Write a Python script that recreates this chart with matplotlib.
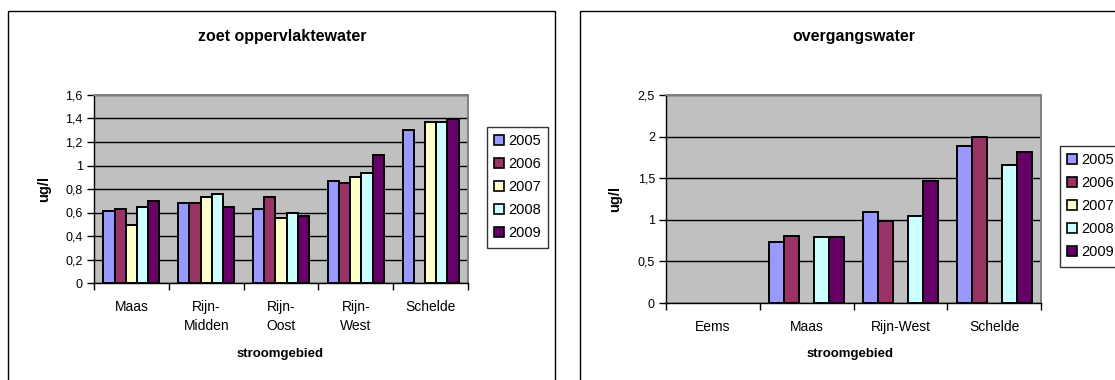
import numpy as np
import matplotlib.pyplot as plt
from matplotlib.patches import Rectangle
from matplotlib.ticker import FuncFormatter, FixedLocator

plt.rcParams["font.family"] = ["Liberation Sans", "DejaVu Sans"]

years = ["2005", "2006", "2007", "2008", "2009"]
colors = ["#9999FF", "#993366", "#FFFFCC", "#CCFFFF", "#660066"]

# zoet oppervlaktewater
zoet_gebieden = ["Maas", "Rijn-\nMidden", "Rijn-\nOost", "Rijn-\nWest", "Schelde"]
zoet_2005 = [0.61, 0.68, 0.63, 0.87, 1.30]
zoet_2006 = [0.63, 0.68, 0.73, 0.85, np.nan]
zoet_2007 = [0.49, 0.73, 0.55, 0.90, 1.37]
zoet_2008 = [0.65, 0.76, 0.60, 0.94, 1.37]
zoet_2009 = [0.70, 0.65, 0.57, 1.09, 1.40]

# overgangswater
overg_gebieden = ["Eems", "Maas", "Rijn-West", "Schelde"]
overg_2005 = [np.nan, 0.73, 1.09, 1.89]
overg_2006 = [np.nan, 0.81, 0.98, 2.00]
overg_2007 = [np.nan, np.nan, np.nan, np.nan]
overg_2008 = [np.nan, 0.79, 1.04, 1.66]
overg_2009 = [np.nan, 0.79, 1.47, 1.81]

W, H = 1115, 380
fig = plt.figure(figsize=(W / 100, H / 100), dpi=100)


def box(x0, y0, x1, y1):
    # pixel box (top-left origin) -> figure fraction rect
    return [x0 / W, 1 - y1 / H, (x1 - x0) / W, (y1 - y0) / H]


def comma(v, pos):
    return f"{v:g}".replace(".", ",")


def draw_panel(ax, cats, series, ymax, ystep, bar_w):
    n = len(cats)
    x = np.arange(n)
    ax.set_facecolor("#C0C0C0")
    for i, (vals, c) in enumerate(zip(series, colors)):
        offs = (i - 2) * bar_w
        ax.bar(x + offs, vals, width=bar_w, color=c, edgecolor="black",
               linewidth=1.4, label=years[i], zorder=3)
    ax.set_xlim(-0.5, n - 0.5)
    ax.set_ylim(0, ymax)
    ax.yaxis.set_major_locator(FixedLocator(np.arange(0, ymax + 1e-9, ystep)))
    ax.yaxis.set_major_formatter(FuncFormatter(comma))
    ax.grid(axis="y", color="black", linewidth=1.0, zorder=1)
    ax.set_xticks(x)
    ax.set_xticklabels(cats, fontsize=10, linespacing=1.45)
    ax.tick_params(axis="x", which="major", length=0, pad=12)
    ax.set_xticks(np.arange(-0.5, n, 1.0), minor=True)
    ax.tick_params(axis="x", which="minor", length=5, width=1.0, direction="out")
    ax.tick_params(axis="y", length=5, width=1.0, labelsize=9, pad=3)
    for s in ["top", "right"]:
        ax.spines[s].set_color("#808080")
        ax.spines[s].set_linewidth(1.4)
    for s in ["left", "bottom"]:
        ax.spines[s].set_color("black")
        ax.spines[s].set_linewidth(1.0)


def add_legend(ax, x0, y0):
    h, l = ax.get_legend_handles_labels()
    leg = fig.legend(h, l, loc="upper left", bbox_to_anchor=(x0 / W, 1 - y0 / H),
                     fontsize=10.5, frameon=True, fancybox=False,
                     handlelength=0.65, handleheight=0.65, handletextpad=0.3,
                     borderpad=0.5, labelspacing=0.62, borderaxespad=0)
    leg.get_frame().set_edgecolor("black")
    leg.get_frame().set_linewidth(1.0)
    for p in leg.get_patches():
        p.set_linewidth(1.2)
    return leg


# outer chart frames
fig.patches.append(Rectangle((8 / W, -0.05), 547 / W, 1 - 11 / H + 0.05,
                             transform=fig.transFigure, fill=False,
                             edgecolor="black", linewidth=1.0))
fig.patches.append(Rectangle((580 / W, -0.05), 0.6, 1 - 11 / H + 0.05,
                             transform=fig.transFigure, fill=False,
                             edgecolor="black", linewidth=1.0))

# left panel
ax1 = fig.add_axes(box(94, 95, 468, 283))
draw_panel(ax1, zoet_gebieden,
           [zoet_2005, zoet_2006, zoet_2007, zoet_2008, zoet_2009],
           1.6, 0.2, 0.15)
fig.text(282 / W, 1 - 36 / H, "zoet oppervlaktewater", ha="center", va="center",
         fontsize=11.5, fontweight="bold")
fig.text(280 / W, 1 - 354 / H, "stroomgebied", ha="center", va="center",
         fontsize=9.5, fontweight="bold")
fig.text(44 / W, 1 - 189 / H, "ug/l", ha="center", va="center", rotation=90,
         fontsize=10.5, fontweight="bold")
add_legend(ax1, 487, 127)

# right panel
ax2 = fig.add_axes(box(666, 95, 1041, 303))
draw_panel(ax2, overg_gebieden,
           [overg_2005, overg_2006, overg_2007, overg_2008, overg_2009],
           2.5, 0.5, 0.16)
fig.text(854 / W, 1 - 36 / H, "overgangswater", ha="center", va="center",
         fontsize=11.5, fontweight="bold")
fig.text(850 / W, 1 - 354 / H, "stroomgebied", ha="center", va="center",
         fontsize=9.5, fontweight="bold")
fig.text(615 / W, 1 - 199 / H, "ug/l", ha="center", va="center", rotation=90,
         fontsize=10.5, fontweight="bold")
add_legend(ax2, 1060, 146)

fig.savefig("out.png", dpi=100)
